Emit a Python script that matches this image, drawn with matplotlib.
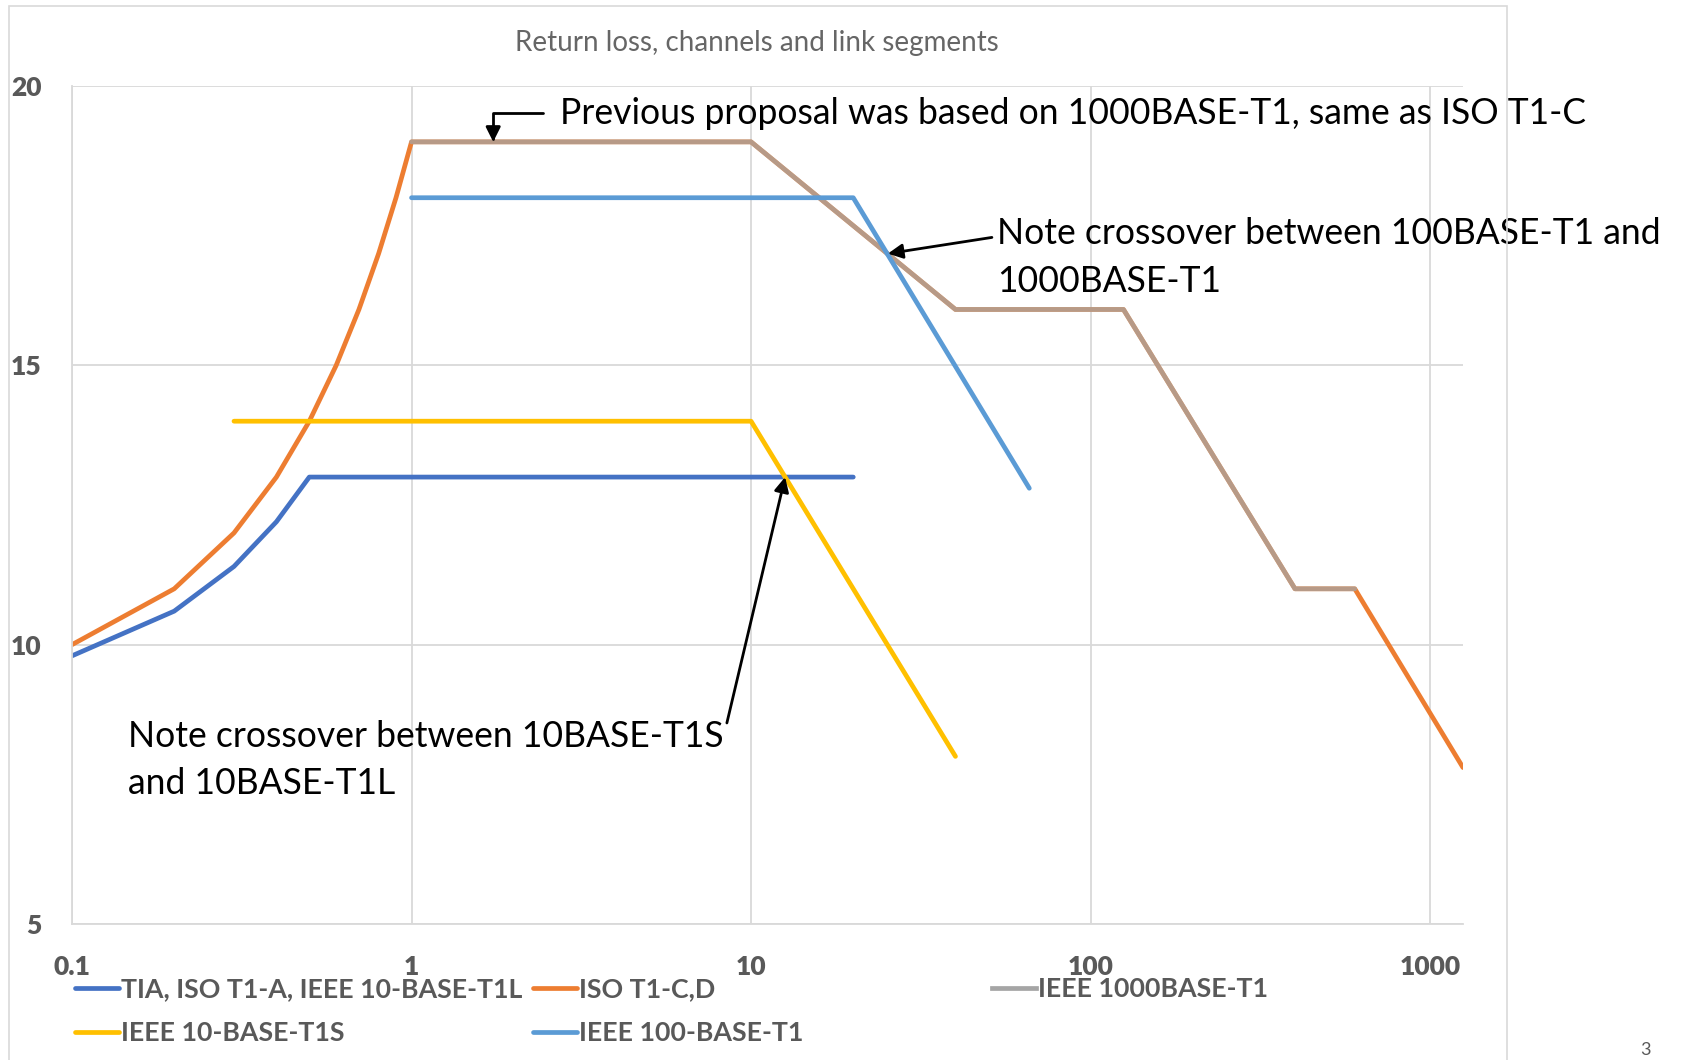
import matplotlib
matplotlib.use("Agg")
import matplotlib.pyplot as plt
from matplotlib.patches import Rectangle

plt.rcParams['font.family'] = ['Lato', 'DejaVu Sans']

# return loss limits, frequency in MHz, RL in dB
freq_t1l = [0.1, 0.2, 0.3, 0.4, 0.5, 20]
rl_t1l = [9.8, 10.6, 11.4, 12.2, 13.0, 13.0]
freq_iso_cd = [0.1, 0.2, 0.3, 0.4, 0.5, 0.6, 0.7, 0.8, 0.9, 1, 10, 40, 125, 400, 600, 1250]
rl_iso_cd = [10, 11, 12, 13, 14, 15, 16, 17, 18, 19, 19, 16, 16, 11, 11, 7.8]
freq_1000 = [1, 10, 40, 125, 400, 600]
rl_1000 = [19, 19, 16, 16, 11, 11]
freq_10s = [0.3, 10, 40]
rl_10s = [14, 14, 8]
freq_100 = [1, 20, 66]
rl_100 = [18, 18, 12.8]

x_ticks = [0.1, 1, 10, 100, 1000]
x_ticklabels = ['0.1', '1', '10', '100', '1000']
y_ticks = [5, 10, 15, 20]

GRID = '#D9D9D9'
TXT = '#595959'

fig = plt.figure(figsize=(16.82, 10.60), dpi=100)
ax = fig.add_axes([72/1682, 136/1060, (1463-72)/1682, (924-86)/1060])

lw = 3.4
l_t1l, = ax.plot(freq_t1l, rl_t1l, color='#4472C4', lw=lw, solid_capstyle='round', label='TIA, ISO T1-A, IEEE 10-BASE-T1L')
l_iso, = ax.plot(freq_iso_cd, rl_iso_cd, color='#ED7D31', lw=lw, solid_capstyle='round', label='ISO T1-C,D')
ax.plot(freq_1000, rl_1000, color='#A5A5A5', lw=lw, alpha=0.75, solid_capstyle='round')
l_10s, = ax.plot(freq_10s, rl_10s, color='#FFC000', lw=lw, solid_capstyle='round', label='IEEE 10-BASE-T1S')
l_100, = ax.plot(freq_100, rl_100, color='#5B9BD5', lw=lw, solid_capstyle='round', label='IEEE 100-BASE-T1')
l_1000 = plt.Line2D([], [], color='#A5A5A5', lw=lw, label='IEEE 1000BASE-T1')

ax.set_xscale('log')
ax.set_xlim(0.1, 1250)
ax.set_ylim(5, 20)
ax.set_xticks(x_ticks)
ax.set_xticklabels(x_ticklabels)
ax.set_yticks(y_ticks)
ax.minorticks_off()
ax.grid(True, color=GRID, lw=1.3)
ax.set_axisbelow(True)
for s in ['top', 'right']:
	ax.spines[s].set_visible(False)
for s in ['left', 'bottom']:
	ax.spines[s].set_color(GRID)
	ax.spines[s].set_linewidth(1.3)
ax.tick_params(length=0, labelsize=19, labelcolor=TXT)
ax.tick_params(axis='y', pad=22)
ax.tick_params(axis='x', pad=22)
for t in ax.get_xticklabels() + ax.get_yticklabels():
	t.set_fontweight('heavy')

fig.text(0.450, 0.9594, 'Return loss, channels and link segments', ha='center', va='center',
		 fontsize=20, color='#666666')

# legend, three columns like excel
leg_kw = dict(frameon=False, handlelength=1.65, handletextpad=0.08,
			  borderpad=0, borderaxespad=0, labelspacing=0.74, loc='upper left',
			  bbox_transform=fig.transFigure, prop={'weight': 'bold', 'size': 19.3})
leg1 = ax.legend(handles=[l_t1l, l_10s], bbox_to_anchor=(75/1682, 0.078), **leg_kw)
ax.add_artist(leg1)
leg2 = ax.legend(handles=[l_iso, l_100], bbox_to_anchor=(533/1682, 0.078), **leg_kw)
ax.add_artist(leg2)
leg3 = ax.legend(handles=[l_1000], bbox_to_anchor=(992/1682, 0.078), **leg_kw)
for lg in (leg1, leg2, leg3):
	for t in lg.get_texts():
		t.set_color(TXT)

arr = dict(arrowstyle='-|>', color='black', lw=2, mutation_scale=22, shrinkB=0)
ax.annotate('Previous proposal was based on 1000BASE-T1, same as ISO T1-C',
			xy=(1.74, 19.0), xytext=(0.333, 0.893), textcoords='figure fraction',
			ha='left', va='center', fontsize=25.6,
			arrowprops=dict(arr, connectionstyle='angle,angleA=0,angleB=90,rad=0',
							relpos=(0, 0.5), shrinkA=10))
ax.annotate('Note crossover between 100BASE-T1 and\n1000BASE-T1',
			xy=(25.3, 17.0), xytext=(0.593, 0.757), textcoords='figure fraction',
			ha='left', va='center', fontsize=25.6, linespacing=1.55,
			arrowprops=dict(arr, relpos=(0, 0.76), shrinkA=2))
ax.annotate('Note crossover between 10BASE-T1S\nand 10BASE-T1L',
			xy=(12.6, 13.0), xytext=(0.076, 0.283), textcoords='figure fraction',
			ha='left', va='center', fontsize=25.6, linespacing=1.55,
			arrowprops=dict(arr, relpos=(1, 0.78), shrinkA=2))

fig.add_artist(Rectangle((9/1682, -0.01), (1507-9)/1682, 1.01 - 6/1060,
						 transform=fig.transFigure, fill=False, edgecolor=GRID, lw=1.2))
# slide number, bottom right
fig.text(1645/1682, 2/1060, '3', ha='center', va='bottom', fontsize=13, color=TXT)

plt.savefig('out.png', dpi=100)
